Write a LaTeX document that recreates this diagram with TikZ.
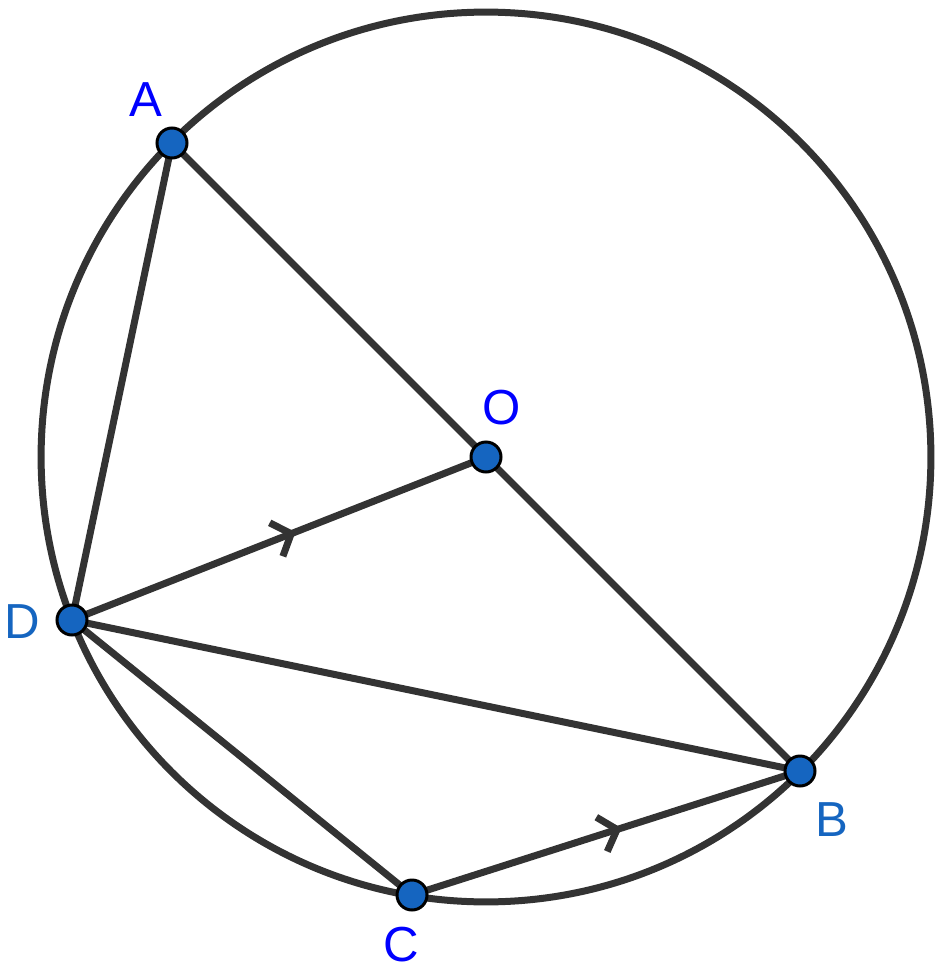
\documentclass[tikz,border=0pt]{standalone}
\usepackage{fontspec}
\setmainfont{Liberation Sans}
\usepackage{tikz}
\usetikzlibrary{arrows.meta,decorations.markings}

\definecolor{edgegray}{HTML}{333333}
\definecolor{dotblue}{HTML}{1565C0}
\definecolor{purelabel}{HTML}{0000FF}

\begin{document}
\begin{tikzpicture}[
        x=0.02cm, y=-0.02cm,
        pt/.style={circle, draw=black, line width=0.06cm, fill=dotblue, minimum size=0.6cm, inner sep=0pt},
        lbl/.style={text=purelabel, font=\fontsize{28}{32}\selectfont, inner sep=0pt},
        lbldark/.style={lbl, text=dotblue},
        seg/.style={draw=edgegray, line width=0.14cm},
        parmark/.style={postaction={decorate, decoration={markings,
            mark=at position 0.54 with {\arrow[edgegray, line cap=round]{Straight Barb[length=0.32cm, width=0.72cm]}}}}}
    ]
        \useasboundingbox (0,0) rectangle (946,973);

        % circle through A, B, C, D
        \draw[seg] (486,457) circle [radius=8.9cm];

        % points
        \coordinate (A) at (172,143);
        \coordinate (O) at (486,457);
        \coordinate (B) at (800,771);
        \coordinate (C) at (412,895);
        \coordinate (D) at (72,620);

        % chords and radii
        \draw[seg, line cap=round] (A) -- (B);
        \draw[seg] (D) -- (A);
        \draw[seg] (D) -- (B);
        \draw[seg] (D) -- (C);
        \draw[seg, parmark] (D) -- (O);
        \draw[seg, parmark] (C) -- (B);

        % dots
        \node[pt] (pA) at (A) {};
        \node[pt] (pO) at (O) {};
        \node[pt] (pB) at (B) {};
        \node[pt] (pC) at (C) {};
        \node[pt] (pD) at (D) {};

        % labels
        \node[lbl] (lA) at (146,100) {A};
        \node[lbl] (lO) at (502,408) {O};
        \node[lbldark] (lB) at (832,820) {B};
        \node[lbl] (lC) at (401,945) {C};
        \node[lbldark] (lD) at (22,622) {D};
    \end{tikzpicture}
\end{document}
